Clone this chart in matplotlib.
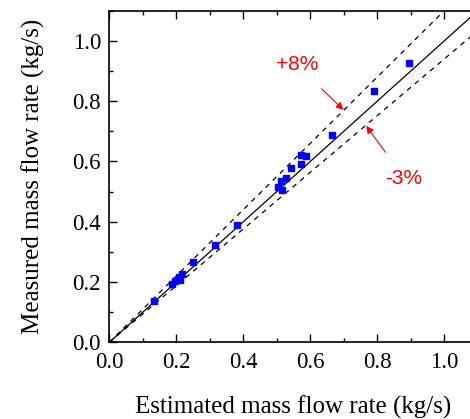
import matplotlib
matplotlib.use("Agg")
import numpy as np
import matplotlib.pyplot as plt
from matplotlib.ticker import MultipleLocator

# ======================================
# Data
# ======================================

estimated = [0.133, 0.188, 0.197, 0.209, 0.216, 0.211, 0.251, 0.317, 0.380,
             0.503, 0.515, 0.513, 0.527, 0.541, 0.571, 0.572, 0.588,
             0.664, 0.791, 0.896]
measured = [0.138, 0.192, 0.204, 0.216, 0.226, 0.207, 0.266, 0.324, 0.389,
            0.516, 0.504, 0.535, 0.546, 0.579, 0.592, 0.622, 0.619,
            0.688, 0.834, 0.926]

# slopes of the reference lines as drawn
upper_slope = 1.10
lower_slope = 0.94

tick_values = [0.0, 0.2, 0.4, 0.6, 0.8, 1.0]

# ======================================
# Figure
# ======================================

plt.rcParams['font.family'] = ['Liberation Serif', 'DejaVu Serif']

fig = plt.figure(figsize=(4.70, 4.19), dpi=100)
ax = fig.add_axes([109.3 / 470, 76.7 / 419, 368.5 / 470, 331.6 / 419])

line_x = np.array([0.0, 1.2])
ax.plot(line_x, line_x, color='black', lw=0.9)
ax.plot(line_x, upper_slope * line_x, color='black', lw=0.9, ls=(0, (4, 4)))
ax.plot(line_x, lower_slope * line_x, color='black', lw=0.9, ls=(0, (4, 4)))

ax.plot(estimated, measured, ls='none', marker='s', ms=5,
        color='#0000ff', mec='#0000ff')

ax.set_xlim(0, 1.1)
ax.set_ylim(0, 1.1)
ax.set_xticks(tick_values)
ax.set_yticks(tick_values)
ax.set_xticklabels(['%.1f' % v for v in tick_values])
ax.set_yticklabels(['%.1f' % v for v in tick_values])
ax.xaxis.set_minor_locator(MultipleLocator(0.1))
ax.yaxis.set_minor_locator(MultipleLocator(0.1))
ax.tick_params(which='both', direction='in', top=True, right=True,
               labelsize=16.5, width=1.0)
ax.tick_params(which='major', length=6)
ax.tick_params(which='minor', length=3)
ax.tick_params(axis='x', pad=7)
ax.tick_params(axis='y', pad=6)
for s in ax.spines.values():
    s.set_linewidth(1.2)

ax.set_xlabel('Estimated mass flow rate (kg/s)', fontsize=18, labelpad=16)
ax.set_ylabel('Measured mass flow rate (kg/s)', fontsize=18, labelpad=20)

# ======================================
# Annotations
# ======================================

ax.annotate('+8%', xy=(0.699, 0.771), xytext=(0.56, 0.92),
            color='red', fontsize=15, family=['Liberation Sans'],
            ha='center', va='center',
            arrowprops=dict(arrowstyle='-|>', color='red', lw=0.8,
                            shrinkA=12, shrinkB=0, mutation_scale=11))
ax.annotate('-3%', xy=(0.767, 0.718), xytext=(0.88, 0.545),
            color='red', fontsize=15, family=['Liberation Sans'],
            ha='center', va='center',
            arrowprops=dict(arrowstyle='-|>', color='red', lw=0.8,
                            shrinkA=12, shrinkB=0, mutation_scale=11))

fig.savefig('out.png', dpi=100)
